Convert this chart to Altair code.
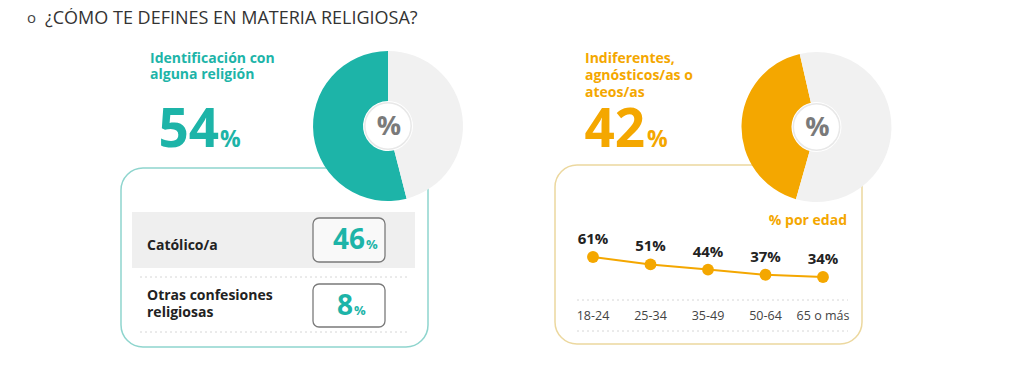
import math
import altair as alt
import pandas as pd

# ---------------- data ----------------
title_bullet = "o"
title_text = "¿CÓMO TE DEFINES EN MATERIA RELIGIOSA?"
group_left_lines = ["Identificación con", "alguna religión"]
group_right_lines = ["Indiferentes,", "agnósticos/as o", "ateos/as"]
group_values = [54, 42]
confession_lines = [["Católico/a"], ["Otras confesiones", "religiosas"]]
confession_values = [46, 8]
age_title = "% por edad"
age_groups = ["18-24", "25-34", "35-49", "50-64", "65 o más"]
age_values = [61, 51, 44, 37, 34]

TEAL = "#1db4a8"
AMBER = "#f4a700"
DONUT_GREY = "#f1f1f1"
FONT = "Open Sans"

one = pd.DataFrame({"k": [0]})


def rect(x, x2, y, y2, **kw):
    return alt.Chart(one).mark_rect(**kw).encode(
        x=alt.value(x), x2=alt.value(x2), y=alt.value(y), y2=alt.value(y2))


def rule(x, x2, y, **kw):
    return alt.Chart(one).mark_rule(**kw).encode(
        x=alt.value(x), x2=alt.value(x2), y=alt.value(y))


def text(t, x, y, **kw):
    kw.setdefault("font", FONT)
    kw.setdefault("baseline", "alphabetic")
    kw.setdefault("align", "left")
    return alt.Chart(one).mark_text(text=t, **kw).encode(x=alt.value(x), y=alt.value(y))


def num(v, x, y, **kw):
    kw.setdefault("font", FONT)
    kw.setdefault("baseline", "alphabetic")
    return alt.Chart(pd.DataFrame({"v": [v]})).mark_text(**kw).encode(
        x=alt.value(x), y=alt.value(y), text=alt.Text("v:Q", format="d"))


def donut(value, color, cx, cy, start_deg):
    df = pd.DataFrame({"part": ["grupo", "resto"], "v": [value, 100 - value], "ord": [0, 1]})
    s = math.radians(start_deg)
    arc = alt.Chart(df).mark_arc(radius=75, innerRadius=25).encode(
        theta=alt.Theta("v:Q", stack=True, scale=alt.Scale(range=[s, s + 2 * math.pi])),
        order=alt.Order("ord:Q"),
        color=alt.Color("part:N", scale=alt.Scale(domain=["grupo", "resto"], range=[color, DONUT_GREY]),
                        legend=None),
        x=alt.value(cx), y=alt.value(cy))
    hole = alt.Chart(one).mark_circle(size=2150, color="white", opacity=1,
                                      stroke="#e8e8e8", strokeWidth=1.5).encode(
        x=alt.value(cx), y=alt.value(cy))
    pct = text("%", cx + 1, cy + 1, fontSize=27, fontWeight="bold", color="#7a7a7a",
               align="center", baseline="middle")
    return [arc, hole, pct]


layers = []

# title
layers.append(text(title_bullet, 19, 15, fontSize=15, color="#444"))
layers.append(text(title_text, 37, 16, fontSize=18, color="#333"))

# ---------- left panel ----------
layers.append(rect(113, 420, 160, 339, fill="white", stroke="#8fd5ce", strokeWidth=1.5, cornerRadius=22))
layers.append(rect(124, 407, 204, 260, fill="#efefef"))
layers.append(rule(132, 402, 269, stroke="#d6d6d6", strokeDash=[2, 3], strokeWidth=1))
layers.append(rule(132, 402, 324, stroke="#d6d6d6", strokeDash=[2, 3], strokeWidth=1))
for i, ln in enumerate(group_left_lines):
    layers.append(text(ln, 142, 55 + 16 * i, fontSize=14, fontWeight="bold", color=TEAL))
layers.append(num(group_values[0], 211, 139, fontSize=53, fontWeight="bold", color=TEAL, align="right"))
layers.append(text("%", 212, 139, fontSize=23, fontWeight="bold", color=TEAL))

box_y = [(210, 254), (276, 319)]
label_y = [[242], [292, 309]]
for i in range(2):
    y0, y1 = box_y[i]
    layers.append(rect(305, 377, y0, y1, fill="#f9f9f9" if i == 0 else "white",
                       stroke="#7a7a7a", strokeWidth=1.3, cornerRadius=6))
    for ln, yy in zip(confession_lines[i], label_y[i]):
        layers.append(text(ln, 139, yy, fontSize=14, fontWeight="bold", color="#222"))
    base = (y0 + y1) / 2 + 9
    layers.append(num(confession_values[i], 357 if i == 0 else 345, base, fontSize=28,
                      fontWeight="bold", color=TEAL, align="right"))
    layers.append(text("%", 358 if i == 0 else 346, base, fontSize=13, fontWeight="bold", color=TEAL))

layers += donut(group_values[0], TEAL, 380, 118, 360 - group_values[0] * 3.6)

# ---------- right panel ----------
layers.append(rect(547, 854, 157, 336, fill="white", stroke="#ecd89f", strokeWidth=1.5, cornerRadius=22))
for i, ln in enumerate(group_right_lines):
    layers.append(text(ln, 577, 55 + 17 * i, fontSize=14, fontWeight="bold", color=AMBER))
layers.append(num(group_values[1], 637, 139, fontSize=53, fontWeight="bold", color=AMBER, align="right"))
layers.append(text("%", 639, 139, fontSize=23, fontWeight="bold", color=AMBER))
layers += donut(group_values[1], AMBER, 808.5, 119, 271.5 - group_values[1] * 1.8)

layers.append(text(age_title, 839, 217, fontSize=14, fontWeight="bold", color=AMBER, align="right"))
layers.append(rule(569, 840, 292, stroke="#d6d6d6", strokeDash=[2, 3], strokeWidth=1))
layers.append(rule(569, 840, 323, stroke="#d6d6d6", strokeDash=[2, 3], strokeWidth=1))

ages = pd.DataFrame({"edad": age_groups, "pct": age_values})
xs = alt.X("edad:N", sort=age_groups, axis=None,
           scale=alt.Scale(type="point", range=[585, 815], padding=0))
ys = alt.Y("pct:Q", axis=None,
           scale=alt.Scale(domain=[0, 100], range=[294.2, 220.1], nice=False, zero=False))
base_age = alt.Chart(ages)
layers.append(base_age.mark_line(color=AMBER, strokeWidth=2).encode(x=xs, y=ys))
layers.append(base_age.mark_circle(color=AMBER, size=140, opacity=1).encode(x=xs, y=ys))
layers.append(base_age.transform_calculate(lbl="format(datum.pct, 'd') + '%'").mark_text(
    font=FONT, fontSize=15, fontWeight="bold", color="#222", dy=-13, baseline="alphabetic").encode(
    x=xs, y=ys, text="lbl:N"))
layers.append(base_age.mark_text(font=FONT, fontSize=12.5, color="#444", baseline="alphabetic").encode(
    x=xs, y=alt.value(312), text="edad:N"))

chart = alt.layer(*layers).properties(
    width=1008, height=350, padding=0, autosize=alt.AutoSizeParams(type="none"),
    background="white"
).resolve_scale(theta="independent", color="independent").configure_view(stroke=None)

chart.save("out.html", embed_options={"renderer": "svg", "actions": False})
